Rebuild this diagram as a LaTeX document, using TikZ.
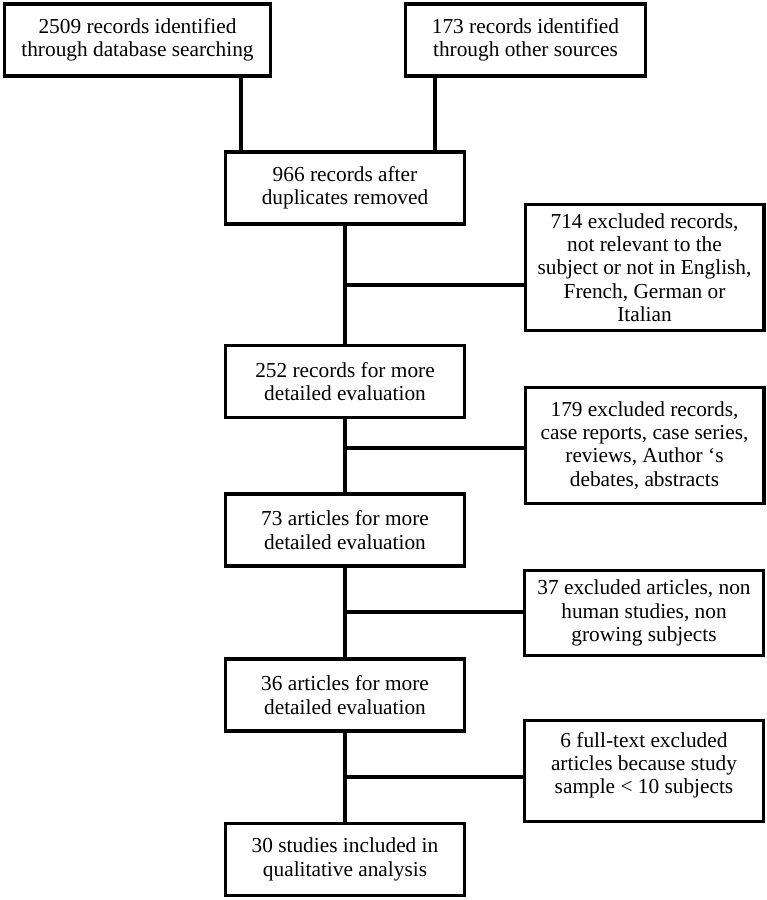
\documentclass[tikz,border=0pt]{standalone}
\usepackage{fontspec}
\setmainfont{Liberation Serif}

\begin{document}
\begin{tikzpicture}[x=0.75pt,y=-0.75pt,
				blk/.style={draw,line width=2.5pt,rectangle,inner sep=0pt,align=center,
					minimum width=179pt,minimum height=54pt,
					font=\fontsize{16pt}{17.5pt}\selectfont},
				wire/.style={line width=2.3pt}]
				\useasboundingbox (0,0) rectangle (767,900);
				
				\node[blk,minimum width=199.5pt] (db) at (137.5,40) {2509 records identified\\through database searching};
				\node[blk,minimum width=180pt] (oth) at (525.5,40) {173 records identified\\through other sources};
				\node[blk] (dup) at (345,188) {966 records after\\duplicates removed};
				
				\node[blk,minimum height=94.5pt] (ex1) at (644.5,267.5) {714 excluded records,\\not relevant to the\\subject or not in English,\\French, German or\\Italian};
				\node[blk] (r252) at (345,381.5) {252 records for more\\detailed evaluation};
				\node[blk,minimum height=87pt] (ex2) at (644.5,445.5) {179 excluded records,\\case reports, case series,\\reviews, Author `s\\debates, abstracts};
				\node[blk] (a73) at (345,530) {73 articles for more\\detailed evaluation};
				\node[blk,minimum height=63.75pt] (ex3) at (644,613) {37 excluded articles, non\\human studies, non\\growing subjects};
				\node[blk] (a36) at (345,695) {36 articles for more\\detailed evaluation};
				\node[blk,minimum height=75.75pt] (ex4) at (644,771) {6 full-text excluded\\articles because study\\sample < 10 subjects\\[-5.5pt]};
				\node[blk] (fin) at (345,859.5) {30 studies included in\\qualitative analysis};
				
				\coordinate (dbin) at (241,151);
				\coordinate (othin) at (435,151);
				\draw[wire] (dbin |- db.south) -- (dbin);
				\draw[wire] (othin |- oth.south) -- (othin);
				
				\draw[wire] (dup.south) -- (r252.north);
				\draw[wire] (r252.south) -- (a73.north);
				\draw[wire] (a73.south) -- (a36.north);
				\draw[wire] (a36.south) -- (fin.north);
				
				\coordinate (j1) at (345,285);
				\coordinate (j2) at (345,448);
				\coordinate (j3) at (345,612);
				\coordinate (j4) at (345,777);
				\draw[wire] (j1) -- (j1 -| ex1.west);
				\draw[wire] (j2) -- (j2 -| ex2.west);
				\draw[wire] (j3) -- (j3 -| ex3.west);
				\draw[wire] (j4) -- (j4 -| ex4.west);
\end{tikzpicture}
\end{document}
